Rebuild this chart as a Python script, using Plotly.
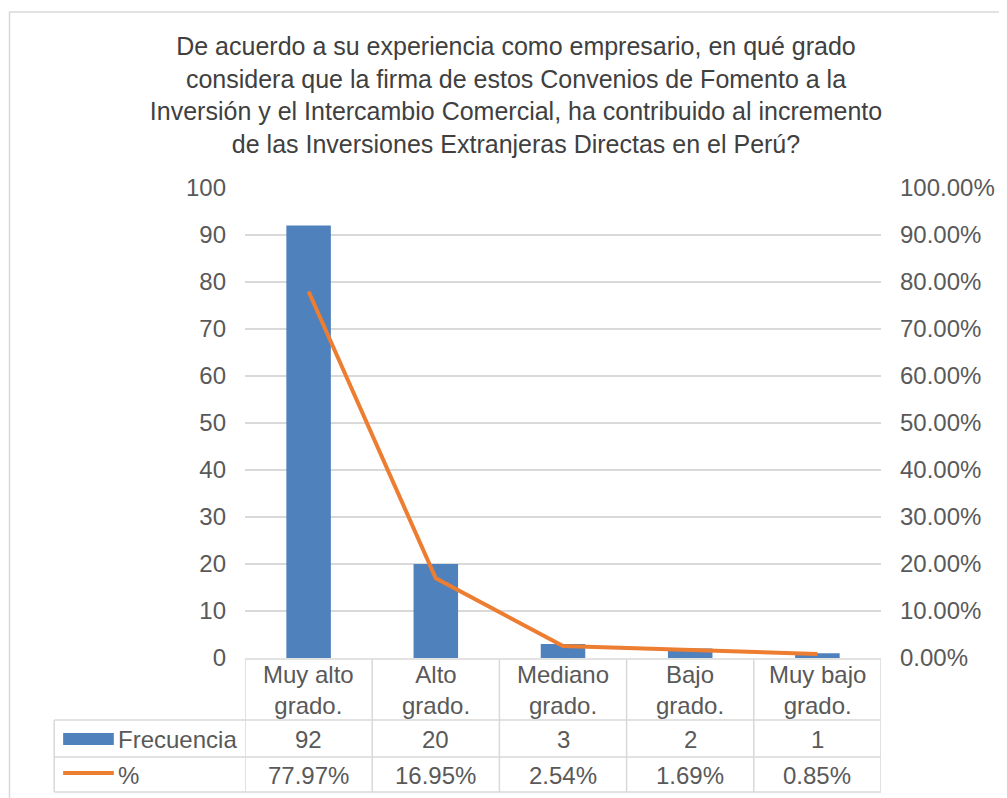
import plotly.graph_objects as go

# datos del gráfico
categorias = ['Muy alto<br>grado.', 'Alto<br>grado.', 'Mediano<br>grado.', 'Bajo<br>grado.', 'Muy bajo<br>grado.']
frecuencia = [92, 20, 3, 2, 1]
porcentaje = [0.7797, 0.1695, 0.0254, 0.0169, 0.0085]
titulo = ('De acuerdo a su experiencia como empresario, en qué grado<br>'
          'considera que la firma de estos Convenios de Fomento a la<br>'
          'Inversión y el Intercambio Comercial, ha contribuido al incremento<br>'
          'de las Inversiones Extranjeras Directas en el Perú?')

AZUL = '#4F81BD'
NARANJA = '#ED7D31'
GRIS = '#595959'
TEXTO = '#404040'
LINEA = '#D9D9D9'
FUENTE = 'Liberation Sans, Arial, sans-serif'

# la página deja 8px de margen en el body
OFF = 8
W, H = 1007 - OFF, 798 - OFF
L, T = 245 - OFF, 188 - OFF
R = W - (885 - OFF)
B = H - (658 - OFF)
alto_plot = H - T - B
ancho_plot = W - L - R


def py(pix):
    # pixel vertical (de la referencia) -> coordenada paper
    return (H - B - (pix - OFF)) / alto_plot


def px_(pix):
    return (pix - OFF - L) / ancho_plot


idx = list(range(len(categorias)))

fig = go.Figure()

fig.add_trace(go.Bar(
    x=idx, y=frecuencia, name='Frecuencia',
    marker_color=AZUL, marker_line_width=0,
))

fig.add_trace(go.Scatter(
    x=idx, y=porcentaje, name='%', yaxis='y2',
    mode='lines', line=dict(color=NARANJA, width=4),
))

# tabla de datos bajo el eje
y_cat, y_fre, y_por = py(690), py(739), py(775)
anotaciones = []
for i, (c, f, p) in enumerate(zip(categorias, frecuencia, porcentaje)):
    anotaciones.append(dict(x=i, y=y_cat, xref='x', yref='paper', text=c,
                            showarrow=False, yanchor='middle',
                            font=dict(size=24, color=GRIS)))
    anotaciones.append(dict(x=i, y=y_fre, xref='x', yref='paper', text=str(f),
                            showarrow=False, yanchor='middle',
                            font=dict(size=24, color=GRIS)))
    anotaciones.append(dict(x=i, y=y_por, xref='x', yref='paper', text=f'{p:.2%}',
                            showarrow=False, yanchor='middle',
                            font=dict(size=24, color=GRIS)))

anotaciones.append(dict(x=px_(115), y=y_fre, xref='paper', yref='paper', text='Frecuencia',
                        showarrow=False, xanchor='left', yanchor='middle',
                        font=dict(size=24, color=GRIS)))
anotaciones.append(dict(x=px_(115), y=y_por, xref='paper', yref='paper', text='%',
                        showarrow=False, xanchor='left', yanchor='middle',
                        font=dict(size=24, color=GRIS)))

formas = []
lin = dict(color=LINEA, width=1.5)
# líneas horizontales de la tabla
formas.append(dict(type='line', xref='paper', yref='paper', x0=0, x1=1,
                   y0=py(659), y1=py(659), line=lin))
for yy in (720, 757, 792):
    formas.append(dict(type='line', xref='paper', yref='paper', x0=px_(53), x1=1,
                       y0=py(yy), y1=py(yy), line=lin))
# líneas verticales
formas.append(dict(type='line', xref='paper', yref='paper', x0=px_(53), x1=px_(53),
                   y0=py(720), y1=py(792), line=lin))
for i in range(len(categorias) + 1):
    formas.append(dict(type='line', xref='x', yref='paper', x0=i - 0.5, x1=i - 0.5,
                       y0=py(659), y1=py(792), line=lin))
# claves de leyenda
formas.append(dict(type='rect', xref='paper', yref='paper', x0=px_(62), x1=px_(113),
                   y0=py(745), y1=py(733), fillcolor=AZUL, line_width=0))
formas.append(dict(type='line', xref='paper', yref='paper', x0=px_(62), x1=px_(113),
                   y0=py(773), y1=py(773), line=dict(color=NARANJA, width=4)))
# borde del gráfico
formas.append(dict(type='rect', xref='paper', yref='paper', x0=px_(8), x1=px_(1030),
                   y0=py(12), y1=py(830), line=dict(color=LINEA, width=1.5)))

fig.update_layout(
    width=W, height=H,
    margin=dict(l=L, r=R, t=T, b=B),
    paper_bgcolor='white', plot_bgcolor='white',
    font=dict(family=FUENTE, color=GRIS),
    showlegend=False,
    bargap=0.65,
    title=dict(text=titulo, x=(516 - OFF) / W, xref='container', xanchor='center',
               y=1 - (55 - OFF) / H, yanchor='top', yref='container',
               font=dict(size=25, color=TEXTO)),
    xaxis=dict(range=[-0.5, len(categorias) - 0.5], showticklabels=False,
               showgrid=False, zeroline=False, showline=False, fixedrange=True),
    yaxis=dict(range=[0, 100], dtick=10, showgrid=True, gridcolor=LINEA, gridwidth=1.5,
               zeroline=False, showline=False, ticks='',
               ticklabelstandoff=18, tickfont=dict(size=24, color=GRIS)),
    yaxis2=dict(range=[0, 1], dtick=0.1, tickformat='.2%', overlaying='y', side='right',
                showgrid=False, zeroline=False, showline=False, ticks='',
                ticklabelstandoff=18, tickfont=dict(size=24, color=GRIS)),
    annotations=anotaciones,
    shapes=formas,
)

fig.write_html('out.html')
